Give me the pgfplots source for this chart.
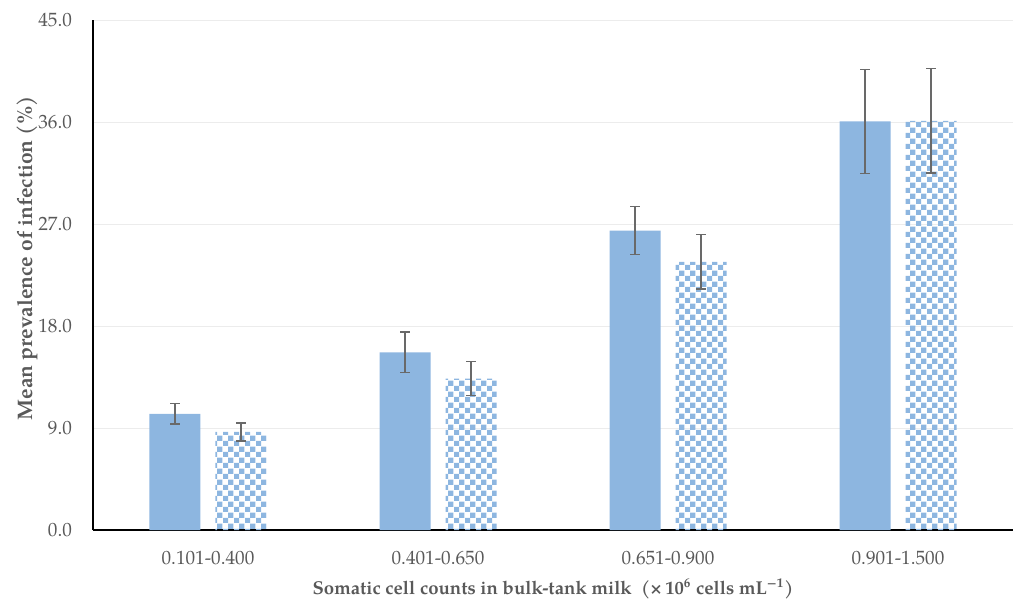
\documentclass[border=0pt]{standalone}
\usepackage{pgfplots}
\pgfplotsset{compat=1.18}
\usepackage{fontspec}
\setmainfont{TeX Gyre Pagella}
\usetikzlibrary{patterns}
\definecolor{barblue}{RGB}{141,182,224}
\definecolor{txtgray}{RGB}{89,89,89}
\definecolor{errgray}{RGB}{105,105,105}
\pgfdeclarepatternformonly{mycheck}{\pgfpointorigin}{\pgfpoint{5.6pt}{5.6pt}}{\pgfpoint{5.6pt}{5.6pt}}{%
  \pgfpathrectangle{\pgfpointorigin}{\pgfpoint{2.8pt}{2.8pt}}%
  \pgfpathrectangle{\pgfpoint{2.8pt}{2.8pt}}{\pgfpoint{2.8pt}{2.8pt}}%
  \pgfusepath{fill}}
\begin{document}
\begin{tikzpicture}
\path[use as bounding box] (-46.5pt,-35.5pt) rectangle (461.5pt,265pt);
\begin{axis}[
  scale only axis, width=460pt, height=255pt,
  xmin=-0.5, xmax=3.5, ymin=0, ymax=45,
  axis lines*=left,
  axis line style={black, line width=0.8pt},
  xtick={0,1,2,3},
  xticklabels={0.101-0.400,0.401-0.650,0.651-0.900,0.901-1.500},
  ytick={0,9,18,27,36,45},
  major tick length=0pt,
  ymajorgrids, grid style={gray!15, line width=0.5pt},
  ticklabel style={font=\fontsize{9.6}{11}\selectfont, text=txtgray},
  yticklabel style={xshift=-7pt, /pgf/number format/.cd, fixed, fixed zerofill, precision=1, assume math mode=true},
  xticklabel style={yshift=-7pt},
  xlabel={\textbf{Somatic cell counts in bulk-tank milk\ \ (×\,10\textsuperscript{6} cells mL\textsuperscript{−1})}},
  ylabel={\textbf{Mean prevalence of infection (\%)}},
  xlabel style={font=\fontsize{9.3}{11}\selectfont, text=txtgray, yshift=0pt},
  ylabel style={font=\fontsize{10.5}{12}\selectfont, text=txtgray, yshift=-6.5pt, xshift=8.5pt},
  bar width=25.5pt,
  ybar,
  error bars/error bar style={errgray, line width=0.7pt},
  error bars/error mark options={rotate=90, errgray, mark size=2.3pt, line width=0.7pt},
]
\addplot[fill=barblue, draw=none, bar shift=-16.5pt,
  error bars/.cd, y dir=both, y explicit]
  coordinates {(0,10.24) +- (0,0.9) (1,15.68) +- (0,1.8) (2,26.42) +- (0,2.1) (3,36.05) +- (0,4.6)};
\addplot[pattern=mycheck, pattern color=barblue, draw=none, bar shift=16.5pt,
  error bars/.cd, y dir=both, y explicit]
  coordinates {(0,8.65) +- (0,0.8) (1,13.35) +- (0,1.5) (2,23.65) +- (0,2.4) (3,36.1) +- (0,4.6)};
\end{axis}
\end{tikzpicture}
\end{document}
